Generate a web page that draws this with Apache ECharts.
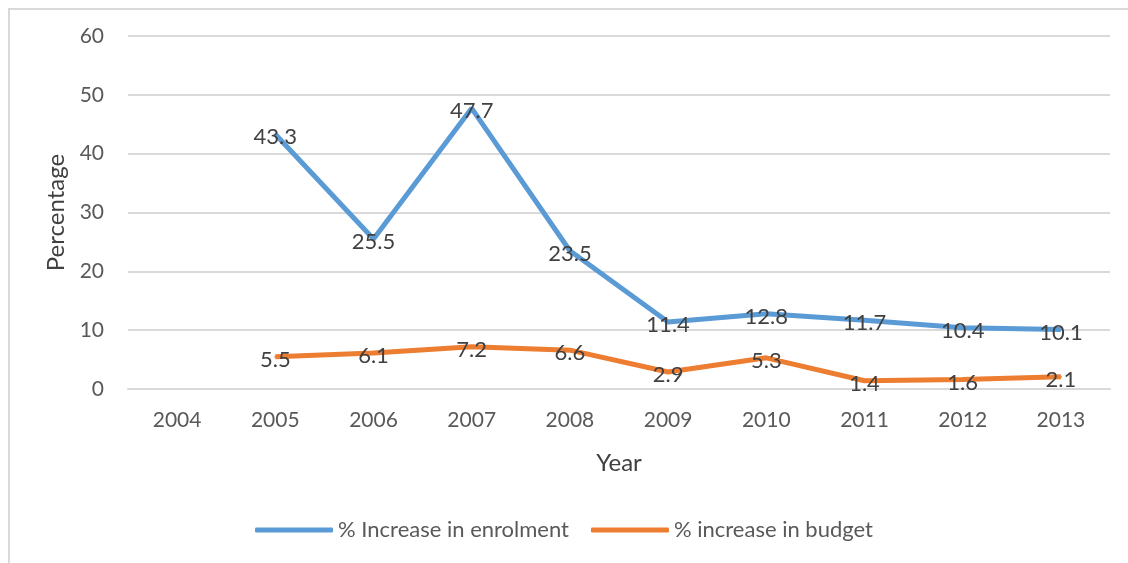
<!DOCTYPE html>
<html><head><meta charset="utf-8">
<script src="https://cdn.jsdelivr.net/npm/echarts@6/dist/echarts.min.js"></script>
<style>
html,body{margin:0;padding:0;background:#fff;}
#frame{position:absolute;left:8px;top:8px;width:1130px;height:570px;border-left:2px solid #d9d9d9;border-top:2px solid #d9d9d9;}
#chart{position:absolute;left:0;top:0;width:1128px;height:563px;}
</style></head>
<body>
<div id="frame"></div>
<div id="chart"></div>
<script>
const years = ['2004','2005','2006','2007','2008','2009','2010','2011','2012','2013'];
const enrolment = [null,43.3,25.5,47.7,23.5,11.4,12.8,11.7,10.4,10.1];
const budget = [null,5.5,6.1,7.2,6.6,2.9,5.3,1.4,1.6,2.1];
const seriesNames = ['% Increase in enrolment','% increase in budget'];

const FONT = 'Lato';
const chart = echarts.init(document.getElementById('chart'));
const lbl = {show:true, position:'inside', offset:[0,3], color:'#404040', fontFamily:FONT, fontSize:22};
chart.setOption({
  animation:false,
  textStyle:{fontFamily:FONT},
  grid:{left:128,right:18,top:36,bottom:174},
  legend:{
    bottom:17, left:'center', itemWidth:78, itemHeight:5, itemGap:22,
    icon:'roundRect',
    textStyle:{fontFamily:FONT,fontSize:22,color:'#595959'},
    data:seriesNames
  },
  xAxis:{
    type:'category', data:years, boundaryGap:true,
    name:'Year', nameLocation:'middle', nameGap:62,
    nameTextStyle:{fontFamily:FONT,fontSize:24,color:'#404040'},
    axisLine:{show:true,lineStyle:{color:'#d9d9d9',width:2}},
    axisTick:{show:false},
    axisLabel:{fontFamily:FONT,fontSize:21,color:'#595959',margin:21}
  },
  yAxis:{
    type:'value', min:0, max:60, interval:10,
    name:'Percentage', nameLocation:'middle', nameGap:57,
    nameTextStyle:{fontFamily:FONT,fontSize:24,color:'#404040'},
    axisLine:{show:false}, axisTick:{show:false},
    axisLabel:{fontFamily:FONT,fontSize:21,color:'#595959',margin:24},
    splitLine:{lineStyle:{color:'#d9d9d9',width:2}}
  },
  series:[
    {name:seriesNames[0], type:'line', data:enrolment, showSymbol:true, symbol:'circle', symbolSize:2,
     lineStyle:{color:'#5B9BD5',width:5}, itemStyle:{color:'#5B9BD5'}, label:lbl},
    {name:seriesNames[1], type:'line', data:budget, showSymbol:true, symbol:'circle', symbolSize:2,
     lineStyle:{color:'#ED7D31',width:5}, itemStyle:{color:'#ED7D31'}, label:lbl}
  ]
});
</script>
</body></html>
